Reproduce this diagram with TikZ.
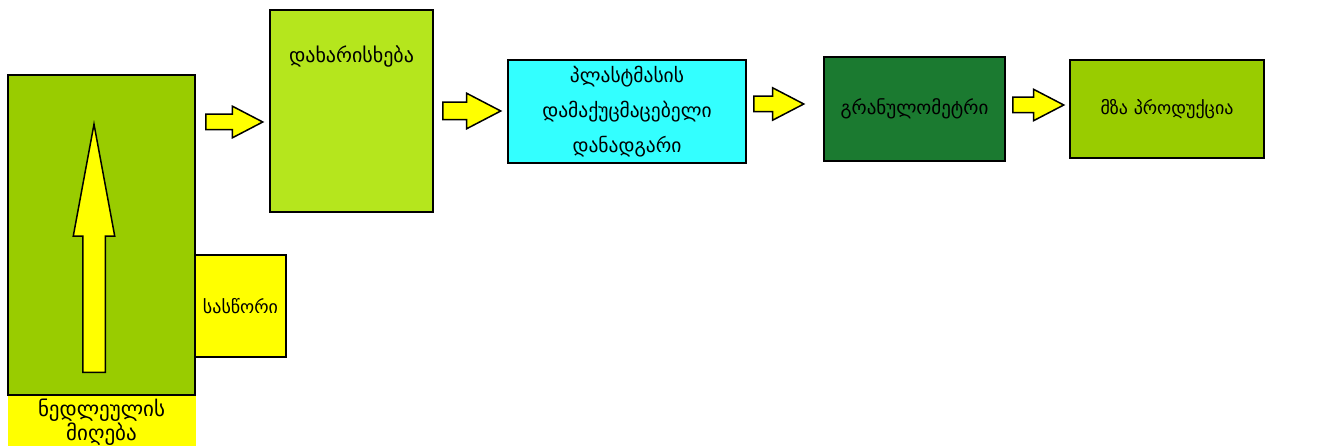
\documentclass[tikz,border=0pt]{standalone}
\usepackage{fontspec}
\setmainfont{DejaVu Sans}
\usepackage{xcolor}
\usetikzlibrary{shapes,shapes.arrows,positioning}

\definecolor{rawgreen}{RGB}{153,204,0}
\definecolor{limegreen}{RGB}{181,230,29}
\definecolor{plastcyan}{RGB}{51,255,255}
\definecolor{darkgreen}{RGB}{27,122,48}
\definecolor{signyellow}{RGB}{255,255,0}

\begin{document}
\begin{tikzpicture}[x=1pt,y=-1pt,font=\fontsize{19}{23}\selectfont]
        \tikzstyle{stage}=[rectangle,draw=black,line width=2.2pt,inner sep=2pt,align=center]
        \tikzstyle{flow}=[single arrow,draw=black,line width=1.5pt,fill=signyellow,inner xsep=0pt,
            inner ysep=7pt,single arrow head extend=8pt,single arrow tip angle=55,anchor=tail]
        \useasboundingbox (0,0) rectangle (1332,446);
        % raw material intake
        \node[fill=signyellow,minimum width=188pt,minimum height=54pt,inner sep=0pt,align=center,
            font=\fontsize{21}{24}\selectfont](rawlabel) at (101.5,422){ნედლეულის\\მიღება};
        \node[stage,fill=rawgreen,minimum width=187pt,minimum height=320pt](raw) at (101.5,235){};
        \node[flow,minimum height=248pt,inner xsep=10.5pt,inner ysep=0pt,single arrow head extend=9.5pt,
            single arrow tip angle=21,shape border rotate=90](up) at (94,373){};
        \node[stage,fill=signyellow,minimum width=91pt,minimum height=102pt,
            font=\fontsize{18}{22}\selectfont](scale) at (240.5,306){სასწორი};
        % process line
        \node[stage,fill=limegreen,minimum width=163pt,minimum height=202pt,
            label={[below=33pt,font=\fontsize{20}{24}\selectfont]north:დახარისხება}](sort) at (351.5,111){};
        \node[stage,fill=plastcyan,minimum width=238pt,minimum height=103pt,
            font=\fontsize{19.5}{35}\selectfont](plast) at (627,111.5){პლასტმასის\\დამაქუცმაცებელი\\დანადგარი};
        \node[stage,fill=darkgreen,minimum width=181pt,minimum height=104pt](gran) at (914.5,109){გრანულომეტრი};
        \node[stage,fill=rawgreen,minimum width=194pt,minimum height=98pt,
            font=\fontsize{18}{22}\selectfont](prod) at (1167,109){მზა პროდუქცია};
        % arrows between stages
        \node[flow,minimum height=57pt](a1) at (205,122){};
        \node[flow,minimum height=58pt,inner ysep=8pt,single arrow head extend=9pt](a2) at (442,111){};
        \node[flow,minimum height=50pt,single arrow head extend=8.5pt](a3) at (753,104){};
        \node[flow,minimum height=51pt](a4) at (1012,105){};
\end{tikzpicture}
\end{document}
